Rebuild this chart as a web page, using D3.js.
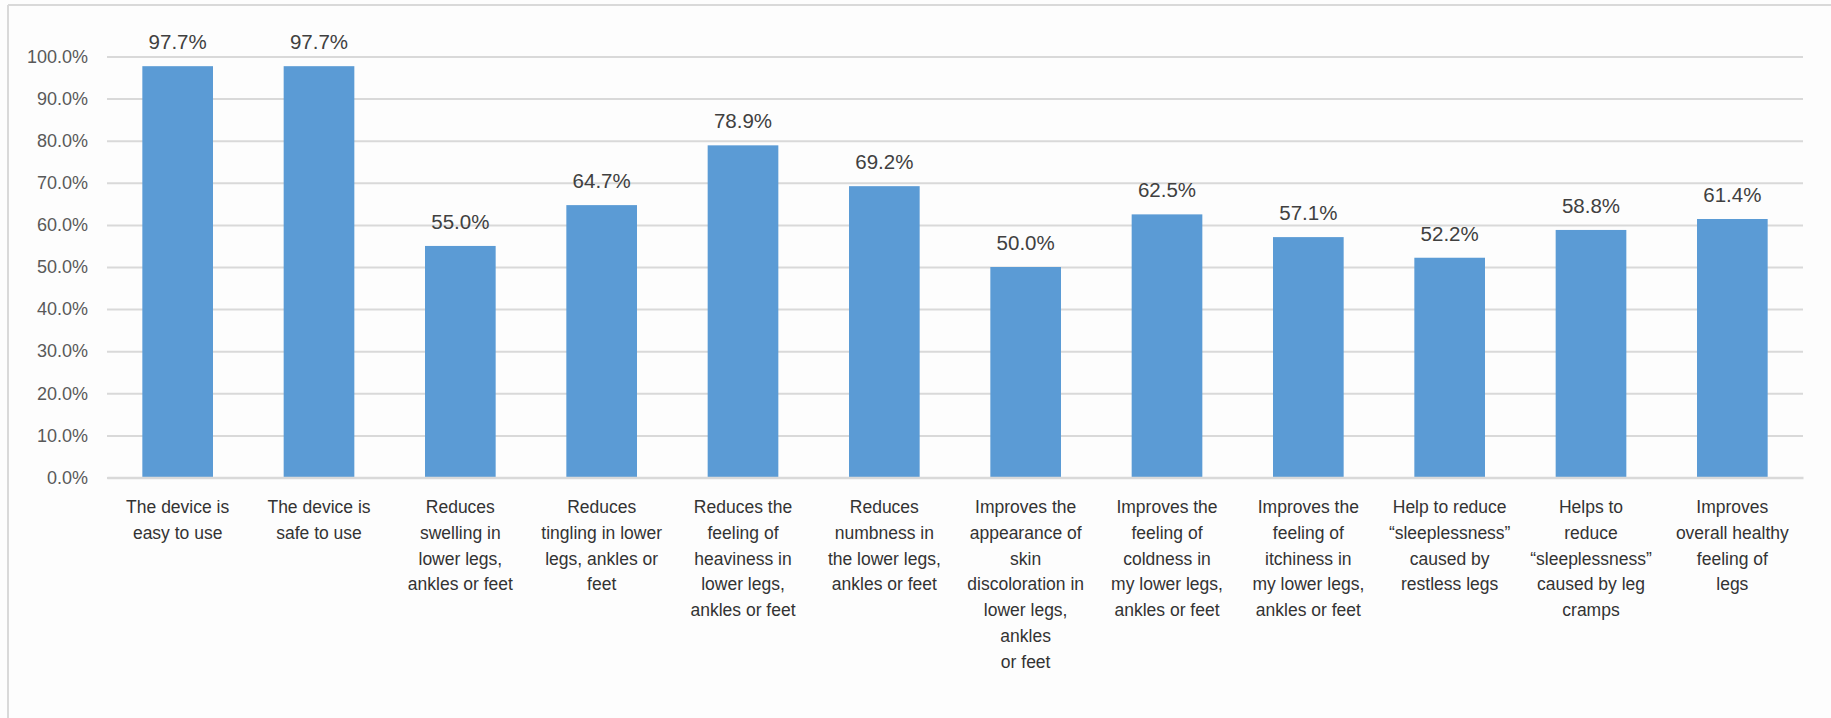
<!DOCTYPE html>
<html>
<head>
<meta charset="utf-8">
<script src="https://cdn.jsdelivr.net/npm/d3@7"></script>
<style>
  html, body { margin: 0; padding: 0; background: #ffffff; }
  svg { display: block; }
  text { font-family: "Liberation Sans", Arial, sans-serif; }
</style>
</head>
<body>
<svg id="chart" width="1831" height="718"></svg>
<script>
// ---- data ----
const categories = [
  "The device is easy to use",
  "The device is safe to use",
  "Reduces swelling in lower legs, ankles or feet",
  "Reduces tingling in lower legs, ankles or feet",
  "Reduces the feeling of heaviness in lower legs, ankles or feet",
  "Reduces numbness in the lower legs, ankles or feet",
  "Improves the appearance of skin discoloration in lower legs, ankles or feet",
  "Improves the feeling of coldness in my lower legs, ankles or feet",
  "Improves the feeling of itchiness in my lower legs, ankles or feet",
  "Help to reduce \u201csleeplessness\u201d caused by restless legs",
  "Helps to reduce \u201csleeplessness\u201d caused by leg cramps",
  "Improves overall healthy feeling of legs"
];
const categoryLines = [
  ["The device is", "easy to use"],
  ["The device is", "safe to use"],
  ["Reduces", "swelling in", "lower legs,", "ankles or feet"],
  ["Reduces", "tingling in lower", "legs, ankles or", "feet"],
  ["Reduces the", "feeling of", "heaviness in", "lower legs,", "ankles or feet"],
  ["Reduces", "numbness in", "the lower legs,", "ankles or feet"],
  ["Improves the", "appearance of", "skin", "discoloration in", "lower legs,", "ankles", "or feet"],
  ["Improves the", "feeling of", "coldness in", "my lower legs,", "ankles or feet"],
  ["Improves the", "feeling of", "itchiness in", "my lower legs,", "ankles or feet"],
  ["Help to reduce", "\u201csleeplessness\u201d", "caused by", "restless legs"],
  ["Helps to", "reduce", "\u201csleeplessness\u201d", "caused by leg", "cramps"],
  ["Improves", "overall healthy", "feeling of", "legs"]
];
const values = [97.7, 97.7, 55.0, 64.7, 78.9, 69.2, 50.0, 62.5, 57.1, 52.2, 58.8, 61.4];
const yTicks = [0, 10, 20, 30, 40, 50, 60, 70, 80, 90, 100];

// ---- layout ----
const svg = d3.select("#chart");
const plotLeft = 107, plotRight = 1803, plotTop = 56.5, plotBottom = 477.5;

svg.append("rect").attr("x", 0).attr("y", 0).attr("width", 1831).attr("height", 718).attr("fill", "#fdfdfd");
// chart border (top & left visible)
svg.append("line").attr("x1", 8).attr("x2", 1831).attr("y1", 5).attr("y2", 5)
  .attr("stroke", "#d9d9d9").attr("stroke-width", 2);
svg.append("line").attr("x1", 8).attr("x2", 8).attr("y1", 5).attr("y2", 718)
  .attr("stroke", "#d9d9d9").attr("stroke-width", 2);

const x = d3.scaleBand()
  .domain(d3.range(categories.length))
  .range([plotLeft, plotRight])
  .paddingInner(0.5)
  .paddingOuter(0.25);

const y = d3.scaleLinear().domain([0, 100]).range([plotBottom, plotTop]);

// gridlines + y labels
const yAxis = d3.axisLeft(y)
  .tickValues(yTicks)
  .tickSize(-(plotRight - plotLeft))
  .tickPadding(19)
  .tickFormat(d => d.toFixed(1) + "%");

const gy = svg.append("g").attr("transform", `translate(${plotLeft},0)`).call(yAxis);
gy.select(".domain").remove();
gy.selectAll(".tick line").attr("stroke", "#d9d9d9").attr("stroke-width", 2);
gy.selectAll(".tick text")
  .attr("fill", "#595959")
  .style("font-size", "18px")
  .style("font-family", "'Liberation Sans', Arial, sans-serif");

// bars
svg.append("g").selectAll("rect.bar")
  .data(values)
  .join("rect")
  .attr("class", "bar")
  .attr("x", (d, i) => x(i))
  .attr("width", x.bandwidth())
  .attr("y", d => y(d))
  .attr("height", d => y(0) - y(d))
  .attr("fill", "#5b9bd5");

// baseline axis
const xAxis = d3.axisBottom(x).tickSize(0).tickFormat("");
const gx = svg.append("g").attr("transform", `translate(0,${plotBottom})`).call(xAxis);
gx.select(".domain").attr("stroke", "#d9d9d9").attr("stroke-width", 2.5);

// data labels
svg.append("g").selectAll("text.val")
  .data(values)
  .join("text")
  .attr("class", "val")
  .attr("x", (d, i) => x(i) + x.bandwidth() / 2)
  .attr("y", d => y(d) - 17)
  .attr("text-anchor", "middle")
  .attr("fill", "#404040")
  .style("font-size", "20.5px")
  .text(d => d.toFixed(1) + "%");

// category labels
const catG = svg.append("g").selectAll("text.cat")
  .data(categoryLines)
  .join("text")
  .attr("class", "cat")
  .attr("x", (d, i) => x(i) + x.bandwidth() / 2)
  .attr("y", 513)
  .attr("text-anchor", "middle")
  .attr("fill", "#333333")
  .style("font-size", "17.5px");

catG.selectAll("tspan")
  .data(d => d)
  .join("tspan")
  .attr("x", function () { return d3.select(this.parentNode).attr("x"); })
  .attr("dy", (d, i) => i === 0 ? 0 : 25.8)
  .text(d => d);
</script>
</body>
</html>
